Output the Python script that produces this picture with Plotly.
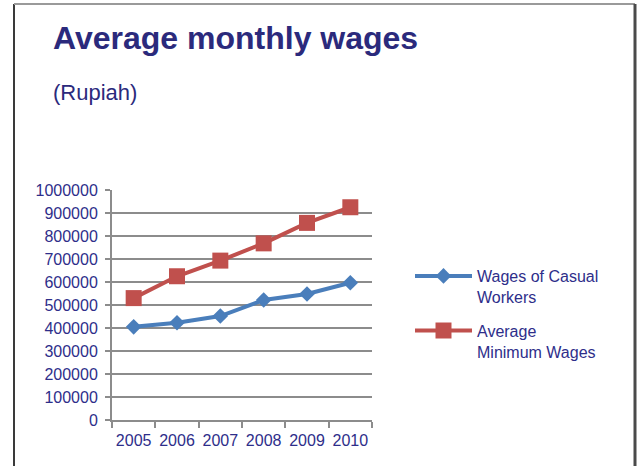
import plotly.graph_objects as go

years = ["2005", "2006", "2007", "2008", "2009", "2010"]
casual_wages = [405000, 423000, 452000, 522000, 548000, 597000]
minimum_wages = [530000, 625000, 693000, 768000, 857000, 925000]
y_ticks = [0, 100000, 200000, 300000, 400000, 500000, 600000, 700000, 800000, 900000, 1000000]

W, H = 637, 466
PL, PR, PT, PB = 112, 372, 190, 420          # plot area in pixels
L, T = PL, PT
pw, ph = PR - PL, PB - PT
R, B = W - L - pw, H - T - ph

def px(x):
    return (x - PL) / pw

def py(y):
    return (PB - y) / ph

FONT = "Liberation Sans, Arial, sans-serif"
NAVY = "#2E2E8A"
GRID = "#8C8C8C"

fig = go.Figure()
fig.add_trace(go.Scatter(
    x=years, y=casual_wages, name="Wages of Casual<br>Workers",
    legendgroup="a",
    mode="lines+markers",
    line=dict(color="#4A7EBB", width=4),
    marker=dict(symbol="diamond", size=12, color="#4A7EBB"),
))
fig.add_trace(go.Scatter(
    x=years, y=minimum_wages, name="Average<br>Minimum Wages",
    legendgroup="b",
    mode="lines+markers",
    line=dict(color="#C0504D", width=4),
    marker=dict(symbol="square", size=16, color="#C0504D"),
))

fig.update_layout(
    width=W, height=H,
    margin=dict(l=L, r=R, t=T, b=B, autoexpand=False),
    paper_bgcolor="white", plot_bgcolor="white",
    font=dict(family=FONT, color=NAVY, size=16),
    showlegend=True,
    legend=dict(x=px(410), y=py(259), xanchor="left", yanchor="top",
                valign="top", font=dict(size=16, color=NAVY),
                tracegroupgap=10, itemwidth=57, bgcolor="rgba(0,0,0,0)"),
    xaxis=dict(type="category", range=[-0.5, 5.5], tickson="boundaries",
               ticks="outside", ticklen=6, tickcolor=GRID, tickwidth=2,
               tickangle=0, automargin=False, ticklabelstandoff=5,
               showline=True, linecolor=GRID, linewidth=2,
               showgrid=False, tickfont=dict(size=16, color=NAVY), fixedrange=True),
    yaxis=dict(range=[0, 1000000], tickmode="array", tickvals=y_ticks,
               ticktext=[str(v) for v in y_ticks], automargin=False,
               ticks="outside", ticklen=5, tickcolor=GRID, tickwidth=2,
               ticklabelstandoff=4,
               showline=True, linecolor=GRID, linewidth=2,
               showgrid=True, gridcolor=GRID, gridwidth=2, zeroline=False,
               tickfont=dict(size=16, color=NAVY), fixedrange=True),
    annotations=[
        dict(text="<b>Average monthly wages</b>", xref="paper", yref="paper",
             x=px(51), y=py(38), xanchor="left", yanchor="middle", showarrow=False,
             font=dict(size=32, color="#2B2A7C", family=FONT)),
        dict(text="(Rupiah)", xref="paper", yref="paper",
             x=px(51), y=py(92), xanchor="left", yanchor="middle", showarrow=False,
             font=dict(size=22, color="#2B2A7C", family=FONT)),
    ],
    shapes=[
        dict(type="line", xref="paper", yref="paper", x0=px(14), x1=px(14),
             y0=py(4), y1=py(470), line=dict(color="#3A3A3A", width=2)),
        dict(type="line", xref="paper", yref="paper", x0=px(14), x1=px(635),
             y0=py(4), y1=py(4), line=dict(color="#9A9A9A", width=2)),
        dict(type="line", xref="paper", yref="paper", x0=px(635), x1=px(635),
             y0=py(4), y1=py(470), line=dict(color="#4A4A4A", width=3)),
    ],
)

fig.write_html("out.html", config={"displayModeBar": False},
               post_script="document.body.style.margin='0';document.body.style.overflow='hidden';")
